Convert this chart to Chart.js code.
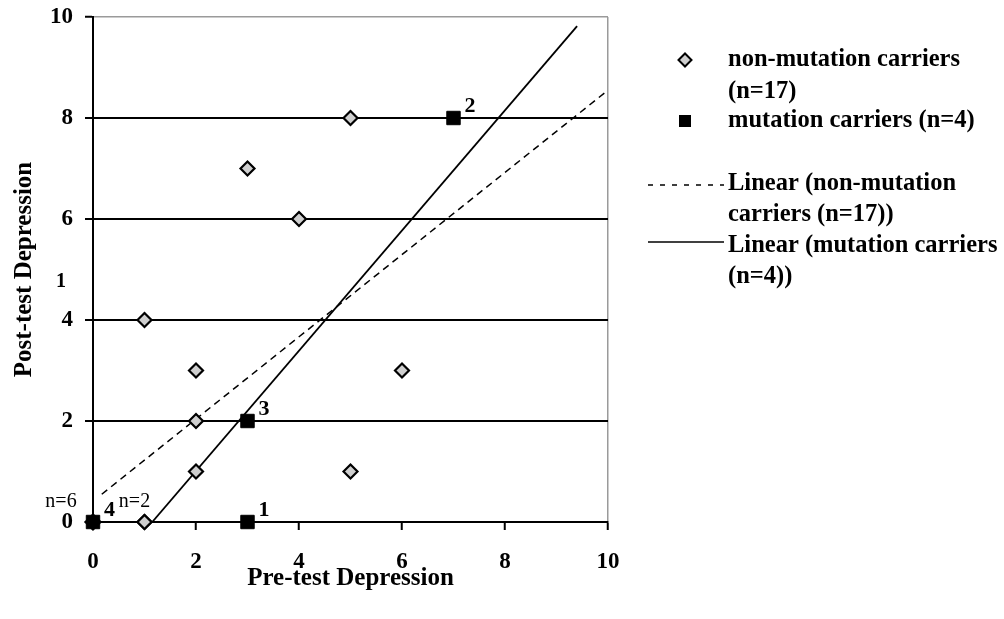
<!DOCTYPE html>
<html>
<head>
<meta charset="utf-8">
<script src="https://cdn.jsdelivr.net/npm/chart.js@4.4.1/dist/chart.umd.min.js"></script>
<style>
  html, body { margin: 0; padding: 0; background: #fff; }
  #wrap { width: 1004px; height: 619px; position: relative; }
</style>
</head>
<body>
<div id="wrap"><canvas id="c" width="1004" height="619"></canvas></div>
<script>
// ---- data ----
const xTicks = [0, 2, 4, 6, 8, 10];
const yTicks = [0, 2, 4, 6, 8, 10];
const nonX = [0, 0, 0, 0, 0, 0, 1, 1, 1, 2, 2, 2, 3, 4, 5, 5, 6];
const nonY = [0, 0, 0, 0, 0, 0, 0, 0, 4, 3, 2, 1, 7, 6, 8, 1, 3];
const mutX = [0, 3, 3, 7];
const mutY = [0, 0, 2, 8];
const mutLabels = ['4', '1', '3', '2'];
const nonTrendX = [0.17, 10];
const nonTrendY = [0.55, 8.55];
const mutTrendX = [1.15, 9.4];
const mutTrendY = [0, 9.82];
const countLabels = ['n=6', 'n=2'];
const countX = [0, 1];
const countY = [0, 0];
const legendTexts = [
  ['non-mutation carriers', '(n=17)'],
  ['mutation carriers (n=4)'],
  ['Linear (non-mutation', 'carriers (n=17))'],
  ['Linear (mutation carriers', '(n=4))']
];

const FONT = "'Liberation Serif', 'Times New Roman', serif";
const toPts = (xs, ys) => xs.map((x, i) => ({ x: x, y: ys[i] }));

const annotPlugin = {
  id: 'annot',
  afterDatasetsDraw(chart) {
    const ctx = chart.ctx;
    const xs = chart.scales.x, ys = chart.scales.y;
    ctx.save();
    ctx.fillStyle = '#000';
    ctx.textBaseline = 'middle';
    ctx.textAlign = 'left';
    ctx.font = "bold 22px " + FONT;
    mutLabels.forEach((t, i) => {
      const px = xs.getPixelForValue(mutX[i]);
      const py = ys.getPixelForValue(mutY[i]);
      ctx.fillText(t, px + 11, py - 12);
    });
    ctx.font = "20px " + FONT;
    ctx.textAlign = 'center';
    ctx.fillText(countLabels[0], xs.getPixelForValue(countX[0]) - 32, ys.getPixelForValue(countY[0]) - 20);
    ctx.fillText(countLabels[1], xs.getPixelForValue(countX[1]) - 10, ys.getPixelForValue(countY[1]) - 20);
    ctx.font = "bold 20px " + FONT;
    ctx.fillText('1', chart.chartArea.left - 32, ys.getPixelForValue(4.75));
    ctx.restore();
  }
};

const legendPlugin = {
  id: 'customLegend',
  afterDraw(chart) {
    const ctx = chart.ctx;
    ctx.save();
    const tx = 728, mx = 685;
    ctx.fillStyle = '#000';
    ctx.strokeStyle = '#000';
    ctx.font = "bold 24.5px " + FONT;
    ctx.textBaseline = 'middle';
    ctx.textAlign = 'left';
    const rows = [[60, 92], [121], [184, 215], [246, 277]];
    legendTexts.forEach((lines, i) => {
      lines.forEach((l, j) => ctx.fillText(l, tx, rows[i][j]));
    });
    ctx.lineWidth = 2;
    ctx.fillStyle = '#cfcfcf';
    ctx.beginPath();
    ctx.moveTo(mx - 6.5, 60); ctx.lineTo(mx, 53.5); ctx.lineTo(mx + 6.5, 60); ctx.lineTo(mx, 66.5); ctx.closePath();
    ctx.fill(); ctx.stroke();
    ctx.fillStyle = '#000';
    ctx.fillRect(mx - 6, 115, 12, 12);
    ctx.lineWidth = 1.5;
    ctx.setLineDash([5, 7]);
    ctx.beginPath(); ctx.moveTo(648, 185); ctx.lineTo(724, 185); ctx.stroke();
    ctx.setLineDash([]);
    ctx.beginPath(); ctx.moveTo(648, 242); ctx.lineTo(724, 242); ctx.stroke();
    ctx.restore();
  }
};

new Chart(document.getElementById('c'), {
  type: 'scatter',
  data: {
    datasets: [
      {
        label: 'mutation carriers (n=4)',
        data: toPts(mutX, mutY),
        pointStyle: 'rect',
        pointRadius: 9.5,
        pointBackgroundColor: '#000',
        pointBorderColor: '#000',
        pointBorderWidth: 1,
        clip: false,
        order: 0
      },
      {
        label: 'non-mutation carriers (n=17)',
        data: toPts(nonX, nonY),
        pointStyle: 'rectRot',
        pointRadius: 7,
        pointBackgroundColor: '#cfcfcf',
        pointBorderColor: '#000',
        pointBorderWidth: 2.2,
        clip: false,
        order: 1
      },
      {
        label: 'Linear (non-mutation carriers (n=17))',
        data: toPts(nonTrendX, nonTrendY),
        showLine: true,
        borderColor: '#000',
        borderWidth: 1.5,
        borderDash: [7, 5],
        pointRadius: 0,
        order: 2
      },
      {
        label: 'Linear (mutation carriers (n=4))',
        data: toPts(mutTrendX, mutTrendY),
        showLine: true,
        borderColor: '#000',
        borderWidth: 1.8,
        pointRadius: 0,
        order: 2
      }
    ]
  },
  options: {
    responsive: false,
    animation: false,
    events: [],
    layout: { padding: { top: 17, right: 396, left: 0, bottom: 0 } },
    plugins: { legend: { display: false }, tooltip: { enabled: false } },
    scales: {
      x: {
        type: 'linear', min: 0, max: 10,
        afterBuildTicks: s => { s.ticks = xTicks.map(v => ({ value: v })); },
        afterFit: s => { s.height = 97; s.paddingLeft = 0; s.paddingRight = 0; },
        ticks: { color: '#000', font: { family: FONT, size: 23, weight: 'bold' }, padding: 18 },
        grid: {
          color: c => (c.tick && c.tick.value === 10) ? '#9a9a9a' : 'rgba(0,0,0,0)',
          lineWidth: 1.5,
          tickColor: '#000', tickLength: 8, tickWidth: 2
        },
        border: { color: '#000', width: 2 },
        title: { display: true, text: 'Pre-test Depression', color: '#000',
                 font: { family: FONT, size: 25, weight: 'bold' }, padding: { top: 0, bottom: 25 } }
      },
      y: {
        type: 'linear', min: 0, max: 10,
        afterBuildTicks: s => { s.ticks = yTicks.map(v => ({ value: v })); },
        afterFit: s => { s.width = 93; s.paddingTop = 0; s.paddingBottom = 0; },
        ticks: { color: '#000', font: { family: FONT, size: 23, weight: 'bold' }, padding: 12 },
        grid: {
          color: c => (c.tick && c.tick.value === 10) ? '#9a9a9a' : '#000',
          lineWidth: c => (c.tick && c.tick.value === 10) ? 1.5 : 2,
          tickColor: '#000', tickLength: 8, tickWidth: 2
        },
        border: { color: '#000', width: 2 },
        title: { display: true, text: 'Post-test Depression', color: '#000',
                 font: { family: FONT, size: 25, weight: 'bold' }, padding: { top: 10, bottom: 0 } }
      }
    }
  },
  plugins: [annotPlugin, legendPlugin]
});
</script>
</body>
</html>
